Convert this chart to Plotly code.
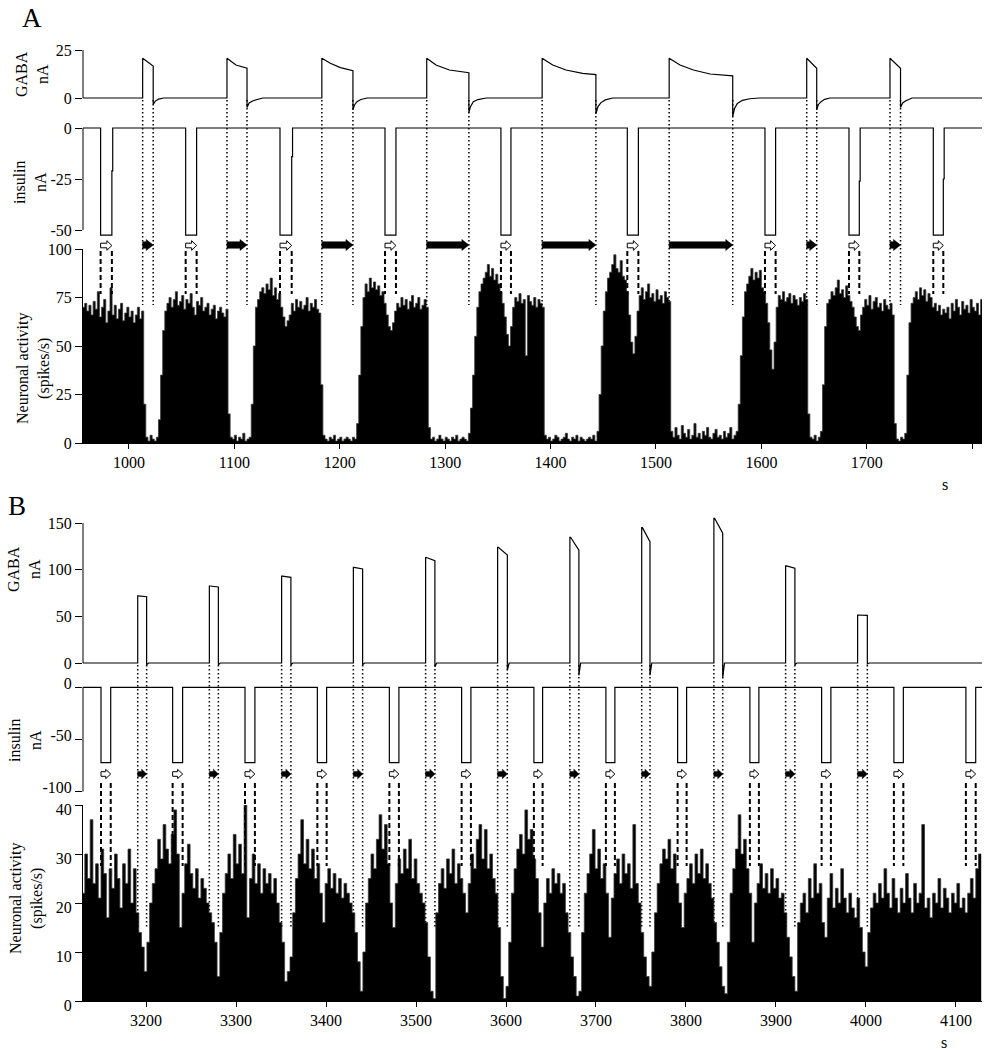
import plotly.graph_objects as go

W, H = 987, 1050
FONT = "Liberation Serif, Times New Roman, serif"

# ======================= Panel A data =======================
A_gaba_t = [956,
            1013, 1013, 1023, 1023, 1025, 1028, 1033,
            1093, 1093, 1101.5, 1112, 1112, 1114, 1117.7, 1127,
            1183, 1183, 1191, 1200.6, 1212.5, 1212.5, 1214, 1216.3, 1220, 1226,
            1282.5, 1282.5, 1291.3, 1304, 1322.5, 1322.5, 1324, 1326.7, 1331, 1339,
            1392, 1392, 1402, 1414.6, 1430.4, 1443, 1443, 1445, 1447.8, 1452, 1459,
            1512.5, 1512.5, 1522.8, 1535.5, 1551.3, 1572.8, 1572.8, 1574.5, 1577.2, 1582, 1589, 1598,
            1643, 1643, 1652.5, 1652.5, 1654, 1656.6, 1660, 1665,
            1722, 1722, 1732, 1732, 1734, 1737, 1743,
            1810]
A_gaba_v = [0,
            0, 20.7, 16.7, -3.3, -1.6, -0.6, 0,
            0, 20.7, 17.2, 15.5, -4.9, -2.6, -1.4, 0,
            0, 20.7, 18.1, 15.8, 14.2, -6.2, -3.6, -1.9, -0.8, 0,
            0, 20.7, 17.2, 14.6, 13.2, -7.6, -4.5, -1.9, -0.8, 0,
            0, 20.7, 17.2, 14.6, 12.8, 12.2, -8.3, -4.5, -2.4, -1.0, 0,
            0, 20.7, 17.2, 14.6, 12.5, 11.5, -9.7, -5.5, -2.8, -1.2, -0.4, 0,
            0, 20.7, 15.5, -6.2, -3.5, -1.9, -0.7, 0,
            0, 20.7, 15.5, -4.9, -2.6, -1.4, 0,
            0]
A_gaba_on = [1013, 1093, 1183, 1282.5, 1392, 1512.5, 1643, 1722]
A_gaba_off = [1023, 1112, 1212.5, 1322.5, 1443, 1572.8, 1652.5, 1732]

A_ins_fall = [973.1, 1053.8, 1143.3, 1242.9, 1352.9, 1472.8, 1603.4, 1683.1, 1763.1]
A_ins_rise = [983.8, 1064.2, 1154.4, 1253.3, 1362.4, 1483.3, 1613.5, 1692.9, 1772.6]
A_ins_bottom = -52.5
A_ins_step = [-21, None, -14, None, None, None, None, -26, -25]

A_rate_start = 956
A_rate_bin = 2
A_rate = [
    70, 72, 68, 71, 66, 73, 69, 78, 65, 70, 74, 62, 68, 80, 66, 71, 64, 69, 72, 63, 67, 70, 65, 68, 62, 66, 70, 64, 68,
    20, 3, 1, 4, 2, 1, 3, 12, 35, 58, 68,
    72, 75, 70, 74, 78, 71, 73, 76, 69, 74, 72, 77, 70, 66, 73, 71, 75, 68, 70, 72, 66, 69, 71, 64, 68, 70, 67, 65, 69,
    15, 3, 2, 4, 1, 3, 2, 5, 1, 2, 3, 20, 50, 70,
    74, 78, 80, 77, 82, 79, 85, 76, 80, 74, 77, 70, 65, 60, 63, 66, 72, 68, 74, 70, 73, 69, 71, 75, 68, 72, 70, 74, 69, 67,
    30, 4, 2, 1, 3, 2, 4, 1, 2, 3, 1, 2, 3, 2, 1, 3, 2, 10, 35, 60,
    75, 82, 78, 85, 80, 83, 79, 81, 76, 78, 72, 66, 60, 58, 62, 68, 72, 70, 75, 71, 74, 69, 73, 76, 70, 72, 75, 69, 71, 74, 70,
    8, 2, 3, 1, 2, 4, 2, 1, 3, 2, 1, 3, 2, 4, 1, 2, 3, 2, 1, 5, 18, 35, 55, 70, 78, 82, 85,
    88, 92, 86, 90, 84, 87, 82, 78, 72, 65, 56, 50, 60, 70, 75, 73, 77, 72, 74, 45, 76, 73, 71, 75, 70, 74, 72, 70,
    4, 2, 3, 1, 2, 4, 3, 1, 2, 3, 5, 2, 1, 3, 2, 4, 1, 3, 2, 1, 2, 3, 2, 4, 1, 6, 25, 50, 68, 78, 85,
    88, 92, 97, 90, 88, 94, 86, 84, 78, 66, 52, 46, 55, 68, 76, 80, 74, 78, 82, 75, 77, 73, 79, 74, 76, 72, 78, 75, 73,
    6, 3, 8, 4, 2, 9, 5, 3, 7, 2, 4, 10, 3, 5, 2, 6, 4, 8, 3, 2, 5, 7, 3, 4, 2, 6, 3, 5, 8, 2, 4, 6, 20, 45, 65, 78,
    82, 86, 90, 84, 88, 85, 89, 80, 78, 72, 62, 48, 38, 52, 70, 76, 74, 78, 73, 75, 77, 72, 76, 74, 71, 75, 73, 77, 74,
    15, 3, 2, 4, 1, 3, 6, 30, 60, 72,
    74, 78, 76, 80, 84, 77, 79, 75, 81, 76, 73, 70, 65, 60, 58, 66, 70, 74, 71, 76, 69, 73, 75, 70, 72, 68, 74, 71, 69, 72, 66,
    10, 2, 1, 3, 2, 5, 35, 62,
    72, 75, 78, 74, 80, 76, 79, 73, 77, 75, 70, 72, 68, 71, 66, 69, 67, 70, 64, 72, 68, 74, 70, 66, 73, 69, 71, 67, 74, 70, 68, 72, 66, 74,
]
A_xticks = [1000, 1100, 1200, 1300, 1400, 1500, 1600, 1700, 1800]
A_xrange = [956.4, 1809.3]
A_gaba_ticks = [0, 25]
A_ins_ticks = [0, -25, -50]
A_rate_ticks = [0, 25, 50, 75, 100]

# ======================= Panel B data =======================
B_gaba_on = [3190.8, 3270.4, 3350.7, 3430.4, 3510.7, 3590.7, 3671, 3750.8, 3831, 3910.7, 3990.7]
B_gaba_off = [3200.7, 3280.4, 3361, 3440.7, 3521, 3601.5, 3681, 3760, 3840.8, 3921, 4001.5]
B_gaba_peak = [72, 82.5, 93, 102.5, 113, 124, 134.7, 145, 155, 104, 51.4]
B_gaba_end = [71, 81.5, 91.8, 100.7, 109.6, 115.7, 121, 130, 139, 101.5, 51]
B_gaba_dip = [-2, -2, -2, -2, -4, -7.5, -13, -13, -16, -2, -1]

B_ins_fall = [3150, 3229.6, 3310, 3390.4, 3470.4, 3550.7, 3631, 3711, 3790.7, 3871, 3950.7, 4031, 4111]
B_ins_rise = [3160.8, 3240.7, 3321, 3400.7, 3481, 3561, 3640.7, 3721, 3800.7, 3881, 3961, 4041.5, 4121.9]
B_ins_bottom = -72.2

B_rate_start = 3129
B_rate_bin = 3
B_rate = [
    22, 30, 25, 37, 24, 28, 21, 31, 26, 17, 27, 23, 30, 25, 19, 28, 24, 31, 20, 27, 18, 14, 11, 6, 12, 20, 24,
    27, 33, 29, 36, 31, 28, 34, 39, 30, 15, 22, 28, 32, 26, 23, 27, 21, 25, 23, 20, 18, 16, 12, 5, 14, 22,
    26, 30, 25, 34, 28, 32, 26, 40, 17, 25, 30, 24, 28, 22, 27, 24, 26, 22, 25, 20, 16, 12, 4, 6, 9, 18, 25,
    30, 37, 28, 33, 27, 31, 25, 28, 22, 16, 24, 27, 23, 26, 22, 25, 21, 24, 22, 20, 18, 14, 8, 2, 10, 20,
    25, 30, 27, 33, 38, 31, 36, 28, 20, 15, 24, 29, 26, 31, 27, 33, 25, 29, 24, 22, 20, 16, 9, 2, 0.5, 18, 24,
    27, 23, 29, 26, 31, 24, 28, 25, 22, 18, 24, 30, 27, 33, 36, 29, 35, 27, 30, 25, 22, 15, 5, 0.5, 3, 12, 22,
    27, 31, 34, 30, 39, 33, 35, 29, 25, 18, 11, 20, 25, 22, 27, 24, 26, 22, 24, 18, 14, 9, 5, 1, 2, 14, 22,
    26, 30, 35, 27, 31, 25, 28, 22, 13, 21, 26, 29, 24, 30, 26, 28, 23, 36, 24, 20, 14, 9, 5, 3, 10, 18, 24,
    28, 31, 29, 33, 27, 30, 24, 20, 15, 22, 25, 28, 24, 30, 26, 31, 25, 28, 24, 21, 16, 12, 7, 3, 1.5, 12, 22,
    27, 31, 38, 30, 33, 27, 22, 12, 20, 24, 28, 23, 26, 22, 27, 23, 25, 21, 22, 18, 13, 9, 5, 2, 16,
    20, 22, 18, 25, 21, 28, 22, 24, 16, 13, 21, 26, 19, 23, 20, 27, 21, 18, 22, 19, 17,
    21, 15, 10, 7, 14, 19, 22, 20, 24, 21, 27, 22, 19, 25, 21, 18, 23, 20, 26, 21,
    18, 24, 20, 22, 36, 19, 21, 17, 22, 20, 25, 19, 23, 21, 18, 22, 20, 24, 19, 21, 18,
    22, 25, 21, 27, 30,
]
B_xticks = [3200, 3300, 3400, 3500, 3600, 3700, 3800, 3900, 4000, 4100]
B_xrange = [3130, 4128.9]
B_gaba_ticks = [0, 50, 100, 150]
B_ins_ticks = [0, -50, -100]
B_rate_ticks = [0, 10, 20, 30, 40]


# ======================= helpers =======================
def prow(p):
    """pixel row -> paper y"""
    return 1 - p / H


def dom(v_a, p_a, v_b, p_b, rng):
    k = (p_b - p_a) / (v_b - v_a)
    p_lo = p_a + (rng[0] - v_a) * k
    p_hi = p_a + (rng[1] - v_a) * k
    return [prow(p_lo), prow(p_hi)]


def pulse_line(t0, t1, falls, rises, bottom, steps=None):
    xs, ys = [t0], [0]
    for i, (f, r) in enumerate(zip(falls, rises)):
        xs += [f, f, r]
        ys += [0, bottom, bottom]
        s = steps[i] if steps else None
        if s is not None:
            xs += [r, r + 0.8, r + 0.8]
            ys += [s, s, 0]
        else:
            xs += [r]
            ys += [0]
    xs.append(t1)
    ys.append(0)
    return xs, ys


def gaba_line(t0, t1, on, off, peak, end, dip):
    xs, ys = [t0], [0]
    for a, b, p, e, d in zip(on, off, peak, end, dip):
        xs += [a, a, a + 0.8, b, b, b + 2.0]
        ys += [0, p, p, e, d, 0]
    xs.append(t1)
    ys.append(0)
    return xs, ys


def hist_xy(start, width, vals):
    xs = [start + width * i for i in range(len(vals) + 1)]
    ys = list(vals) + [vals[-1]]
    return xs, ys


def arrow_path(x0, x1, yc_px, body_px, head_px, hl_px, ppu):
    L = hl_px / ppu
    xb = max(x1 - L, x0)
    yc = prow(yc_px)
    hb = body_px / H
    hh = head_px / H
    return (f"M{x0},{yc - hb} L{xb},{yc - hb} L{xb},{yc - hh} L{x1},{yc} "
            f"L{xb},{yc + hh} L{xb},{yc + hb} L{x0},{yc + hb} Z")


XL, XR = 83, 982
XDOM = [XL / W, XR / W]
ppu_A = (XR - XL) / (A_xrange[1] - A_xrange[0])
ppu_B = (XR - XL) / (B_xrange[1] - B_xrange[0])

fig = go.Figure()
LINE = dict(color="black", width=1.2)

# ---- Panel A traces
fig.add_trace(go.Scatter(x=A_gaba_t, y=A_gaba_v, mode="lines", line=LINE, xaxis="x", yaxis="y"))
ax, ay = pulse_line(956, 1810, A_ins_fall, A_ins_rise, A_ins_bottom, A_ins_step)
fig.add_trace(go.Scatter(x=ax, y=ay, mode="lines", line=LINE, xaxis="x", yaxis="y2"))
hx, hy = hist_xy(A_rate_start, A_rate_bin, A_rate)
fig.add_trace(go.Scatter(x=hx, y=hy, mode="lines", line=dict(color="#3a3a3a", width=0.8, shape="hv"),
                         fill="tozeroy", fillcolor="black", xaxis="x", yaxis="y3"))

# ---- Panel B traces
bx, by = gaba_line(3129, 4129, B_gaba_on, B_gaba_off, B_gaba_peak, B_gaba_end, B_gaba_dip)
fig.add_trace(go.Scatter(x=bx, y=by, mode="lines", line=LINE, xaxis="x2", yaxis="y4"))
ix, iy = pulse_line(3129, 4129, B_ins_fall, B_ins_rise, B_ins_bottom)
fig.add_trace(go.Scatter(x=ix, y=iy, mode="lines", line=LINE, xaxis="x2", yaxis="y5"))
hx, hy = hist_xy(B_rate_start, B_rate_bin, B_rate)
fig.add_trace(go.Scatter(x=hx, y=hy, mode="lines", line=dict(color="#3a3a3a", width=0.8, shape="hv"),
                         fill="tozeroy", fillcolor="black", xaxis="x2", yaxis="y6"))

# ---- axes
tickfont = dict(family=FONT, size=16, color="black")


def yax(rng, domain, tickvals, showline=False, shift=0):
    return dict(range=rng, domain=domain, tickvals=tickvals,
                ticktext=[str(v) for v in tickvals], ticks="outside", ticklen=7,
                tickwidth=1, tickcolor="black", tickfont=tickfont, showgrid=False,
                zeroline=False, showline=showline, linecolor="black", linewidth=1,
                fixedrange=True, automargin=False, ticklabelshift=shift)


A_gaba_rng = [-11, 25]
A_ins_rng = [-56, 1.5]
B_gaba_rng = [-18, 158]
B_ins_rng = [-100, 2]

fig.update_layout(
    width=W, height=H, autosize=False,
    margin=dict(l=0, r=0, t=0, b=0, pad=0, autoexpand=False),
    paper_bgcolor="white", plot_bgcolor="white", showlegend=False,
    font=dict(family=FONT, size=16, color="black"),
    xaxis=dict(domain=XDOM, range=A_xrange, anchor="y3", tickvals=A_xticks, ticks="outside",
               ticklen=5, tickwidth=1, tickcolor="black", tickfont=tickfont, showline=True,
               linecolor="black", linewidth=1, showgrid=False, zeroline=False, automargin=False),
    xaxis2=dict(domain=XDOM, range=B_xrange, anchor="y6", tickvals=B_xticks, ticks="outside",
                ticklen=5, tickwidth=1, tickcolor="black", tickfont=tickfont, showline=True,
                linecolor="black", linewidth=1, showgrid=False, zeroline=False, automargin=False),
    yaxis=dict(anchor="x", **yax(A_gaba_rng, dom(0, 98, 25, 50, A_gaba_rng), A_gaba_ticks)),
    yaxis2=dict(anchor="x", **yax(A_ins_rng, dom(0, 128, -50, 230, A_ins_rng), A_ins_ticks)),
    yaxis3=dict(anchor="x", **yax([0, 100], [prow(443), prow(249)], A_rate_ticks, True)),
    yaxis4=dict(anchor="x2", **yax(B_gaba_rng, dom(0, 663, 150, 523, B_gaba_rng), B_gaba_ticks)),
    yaxis5=dict(anchor="x2", **yax(B_ins_rng, dom(0, 687.3, -100, 791.7, B_ins_rng), B_ins_ticks, shift=-4)),
    yaxis6=dict(anchor="x2", **yax([0, 40], [prow(1001), prow(805)], B_rate_ticks, True, shift=4)),
)

shapes = []
# y spines for current panels (only over the ticked span)
for yref, ticks in [("y", A_gaba_ticks), ("y2", A_ins_ticks), ("y4", B_gaba_ticks), ("y5", B_ins_ticks)]:
    shapes.append(dict(type="line", xref="paper", yref=yref, x0=XL / W, x1=XL / W,
                       y0=min(ticks), y1=max(ticks), line=dict(color="black", width=1)))

DOT = dict(color="black", width=1.5, dash="1.5px,2.5px")
DASH = dict(color="black", width=2, dash="5px,3px")

# Panel A markers
for t in A_gaba_on + A_gaba_off:
    shapes.append(dict(type="line", xref="x", yref="paper", x0=t, x1=t, y0=prow(100), y1=prow(305), line=DOT))
for t in A_ins_fall + A_ins_rise:
    shapes.append(dict(type="line", xref="x", yref="paper", x0=t, x1=t, y0=prow(251), y1=prow(294), line=DASH))
for a, b in zip(A_gaba_on, A_gaba_off):
    shapes.append(dict(type="path", xref="x", yref="paper", path=arrow_path(a, b, 245, 3.3, 5.5, 7, ppu_A),
                       fillcolor="black", line=dict(color="black", width=0.5)))
for a, b in zip(A_ins_fall, A_ins_rise):
    shapes.append(dict(type="path", xref="x", yref="paper", path=arrow_path(a, b, 245.5, 2.3, 4.8, 5, ppu_A),
                       fillcolor="white", line=dict(color="black", width=1)))

# Panel B markers
for t in B_gaba_on + B_gaba_off:
    shapes.append(dict(type="line", xref="x2", yref="paper", x0=t, x1=t, y0=prow(665), y1=prow(927), line=DOT))
for t in B_ins_fall + B_ins_rise:
    shapes.append(dict(type="line", xref="x2", yref="paper", x0=t, x1=t, y0=prow(783), y1=prow(866), line=DASH))
for a, b in zip(B_gaba_on, B_gaba_off):
    shapes.append(dict(type="path", xref="x2", yref="paper", path=arrow_path(a, b, 774, 2.6, 4.8, 5, ppu_B),
                       fillcolor="black", line=dict(color="black", width=0.5)))
for a, b in zip(B_ins_fall, B_ins_rise):
    shapes.append(dict(type="path", xref="x2", yref="paper", path=arrow_path(a, b, 774, 2.3, 4.6, 5, ppu_B),
                       fillcolor="white", line=dict(color="black", width=1)))

fig.update_layout(shapes=shapes)

# ---- text
ann = []


def txt(s, x, y, size=16, angle=0):
    ann.append(dict(text=s, x=x / W, y=prow(y), xref="paper", yref="paper", showarrow=False,
                    xanchor="center", yanchor="middle", textangle=angle,
                    font=dict(family=FONT, size=size, color="black")))


txt("A", 32, 18, 27)
txt("B", 17, 506, 27)
txt("GABA<br>nA", 32, 74, 16, -90)
txt("insulin<br>nA", 30, 182, 16, -90)
txt("Neuronal activity<br>(spikes/s)", 33, 368, 16, -90)
txt("GABA<br>nA", 24, 569, 16, -90)
txt("insulin<br>nA", 25, 740, 16, -90)
txt("Neuronal activity<br>(spikes/s)", 26, 898, 16, -90)
txt("s", 945, 484)
txt("s", 944, 1042)
fig.update_layout(annotations=ann)

fig.write_html("out.html",
               config={"displayModeBar": False, "responsive": False},
               post_script="document.body.style.margin='0px';document.body.style.overflow='hidden';")
